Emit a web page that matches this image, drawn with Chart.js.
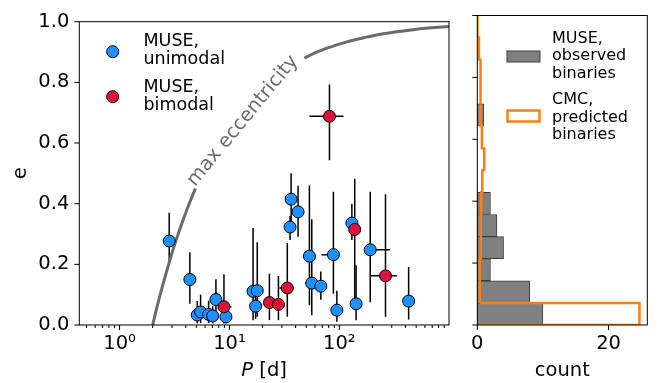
<!DOCTYPE html>
<html>
<head>
<meta charset="utf-8">
<script src="https://cdn.jsdelivr.net/npm/chart.js@4.4.0/dist/chart.umd.min.js"></script>
<style>
  html, body { margin: 0; padding: 0; background: #fff; }
  #wrap { position: relative; width: 660px; height: 383px; }
  #c1 { position: absolute; left: 0; top: 0; }
  #c2 { position: absolute; left: 460px; top: 0; }
</style>
</head>
<body>
<div id="wrap">
  <canvas id="c1" width="460" height="383"></canvas>
  <canvas id="c2" width="200" height="383"></canvas>
</div>
<script>
// MUSE unimodal: period [d], eccentricity and error ranges
const uniP   = [2.83, 4.36, 5.09, 5.46, 6.46, 7.03, 7.53, 9.29, 16.4, 17.9, 17.3, 36.4, 35.6, 42.1, 53.4, 56.1, 67.8, 88.3, 94.9, 130, 142, 191, 427];
const uniE   = [0.277, 0.150, 0.033, 0.043, 0.035, 0.030, 0.084, 0.027, 0.111, 0.113, 0.062, 0.415, 0.323, 0.373, 0.227, 0.138, 0.128, 0.232, 0.049, 0.336, 0.070, 0.248, 0.079];
const uniELo = [0.205, 0.070, 0.006, 0.006, 0.006, 0.005, 0.043, 0.005, 0.016, 0.027, 0.020, 0.330, 0.280, 0.291, 0.065, 0.032, 0.083, 0.103, 0.011, 0.280, 0.016, 0.075, 0.018];
const uniEHi = [0.370, 0.240, 0.079, 0.100, 0.080, 0.062, 0.151, 0.055, 0.320, 0.273, 0.100, 0.500, 0.360, 0.459, 0.460, 0.349, 0.176, 0.439, 0.113, 0.400, 0.197, 0.439, 0.191];
const uniPLo = [2.83, 4.36, 5.09, 5.46, 6.46, 7.03, 7.53, 9.29, 16.4, 17.9, 17.3, 36.4, 35.6, 42.1, 53.4, 48.6, 67.8, 68.6, 94.9, 130, 142, 175, 427];
const uniPHi = [2.83, 4.36, 5.09, 5.46, 6.46, 7.03, 7.53, 9.29, 16.4, 17.9, 17.3, 36.4, 35.6, 42.1, 61.0, 60.0, 67.8, 95.0, 94.9, 130, 142, 290, 427];

// MUSE bimodal
const biP   = [8.91, 23.1, 27.9, 33.6, 81.3, 138, 263];
const biE   = [0.060, 0.074, 0.068, 0.122, 0.688, 0.315, 0.162];
const biELo = [0.005, 0.016, 0.016, 0.027, 0.543, 0.075, 0.027];
const biEHi = [0.167, 0.169, 0.162, 0.270, 0.793, 0.482, 0.431];
const biPLo = [8.2, 23.1, 27.9, 28.4, 53.4, 138, 191];
const biPHi = [10.4, 23.1, 27.9, 38.2, 109, 138, 334];

// max eccentricity curve (gap where the label sits)
const limP1 = [2.0, 2.1, 2.2, 2.35, 2.5, 2.75, 3.0, 3.3, 3.6, 4.0, 4.4, 4.9];
const limE1 = [0.0, 0.032, 0.062, 0.102, 0.138, 0.191, 0.237, 0.284, 0.324, 0.370, 0.409, 0.450];
const limP2 = [48, 60, 75, 100, 130, 170, 230, 320, 450, 650, 995];
const limE2 = [0.880, 0.897, 0.911, 0.926, 0.938, 0.948, 0.958, 0.966, 0.973, 0.979, 0.984];

// x axis ticks
const xTickVals = [0.5, 0.6, 0.7, 0.8, 0.9, 1, 2, 3, 4, 5, 6, 7, 8, 9, 10, 20, 30, 40, 50, 60, 70, 80, 90, 100, 200, 300, 400, 500, 600, 700, 800, 900];
const xMajorVals = [1, 10, 100];
const xMajorLabels = ['10\u2070', '10\u00b9', '10\u00b2'];

// histogram
const binEdges = [0, 0.0714, 0.1429, 0.2143, 0.2857, 0.3571, 0.4286, 0.5, 0.5714, 0.6429, 0.7143, 0.7857, 0.8571, 0.9286, 1];
const museCounts = [10, 8, 2, 4, 3, 2, 0, 0, 0, 1, 0, 0, 0, 0];
const cmcCounts = [24.7, 0.35, 0.4, 0.5, 0.55, 0.6, 0.75, 1.05, 0.7, 0.55, 0.5, 0.45, 0.25, 0.05];

const FONT = '"DejaVu Sans", sans-serif';
const GRAY = '#6b6b6b';
Chart.defaults.font.family = FONT;
Chart.defaults.color = '#000';

function pts(xs, ys) { return xs.map((v, i) => ({x: v, y: ys[i]})); }

function drawTicks(ctx, scale, vals, lenFn, side) {
    const ca = scale.chart.chartArea;
    ctx.beginPath();
    vals.forEach(v => {
        const len = lenFn(v);
        const p = scale.getPixelForValue(v);
        if (side === 'bottom') {
            ctx.moveTo(p, ca.bottom); ctx.lineTo(p, ca.bottom + len);
        } else {
            ctx.moveTo(ca.left, p); ctx.lineTo(ca.left - len, p);
        }
    });
    ctx.stroke();
}

const mainDecor = {
    id: 'mainDecor',
    beforeDatasetsDraw(chart) {
        const {ctx, scales: {x, y}} = chart;
        ctx.save();
        ctx.strokeStyle = '#000';
        ctx.lineWidth = 1.5;
        const groups = [
            [uniP, uniE, uniELo, uniEHi, uniPLo, uniPHi],
            [biP, biE, biELo, biEHi, biPLo, biPHi]
        ];
        groups.forEach(([P, E, lo, hi, plo, phi]) => {
            for (let i = 0; i < P.length; i++) {
                const px = x.getPixelForValue(P[i]);
                const py = y.getPixelForValue(E[i]);
                ctx.beginPath();
                ctx.moveTo(px, y.getPixelForValue(lo[i]));
                ctx.lineTo(px, y.getPixelForValue(hi[i]));
                if (plo[i] !== phi[i]) {
                    ctx.moveTo(x.getPixelForValue(plo[i]), py);
                    ctx.lineTo(x.getPixelForValue(phi[i]), py);
                }
                ctx.stroke();
            }
        });
        ctx.restore();
    },
    afterDraw(chart) {
        const {ctx, chartArea: ca, scales: {x, y}} = chart;
        ctx.save();
        ctx.strokeStyle = '#000';
        ctx.lineWidth = 1;
        ctx.strokeRect(ca.left, ca.top, ca.right - ca.left, ca.bottom - ca.top);
        drawTicks(ctx, x, xTickVals, v => xMajorVals.includes(v) ? 5 : 3, 'bottom');
        drawTicks(ctx, y, y.ticks.map(t => t.value), () => 5, 'left');

        // axis labels
        ctx.fillStyle = '#000';
        ctx.textBaseline = 'alphabetic';
        ctx.font = 'italic 19.5px ' + FONT;
        const pw = ctx.measureText('P').width;
        ctx.font = '19.5px ' + FONT;
        const rw = ctx.measureText(' [d]').width;
        const cx = (ca.left + ca.right) / 2;
        const sx = cx - (pw + rw) / 2;
        ctx.textAlign = 'left';
        ctx.font = 'italic 19.5px ' + FONT;
        ctx.fillText('P', sx, 376);
        ctx.font = '19.5px ' + FONT;
        ctx.fillText(' [d]', sx + pw, 376);

        ctx.save();
        ctx.translate(26, (ca.top + ca.bottom) / 2);
        ctx.rotate(-Math.PI / 2);
        ctx.textAlign = 'center';
        ctx.fillText('e', 0, 0);
        ctx.restore();

        // legend
        const legend = [
            {color: '#1E90FF', cy: 51.7, lines: ['MUSE,', 'unimodal'], base: 46},
            {color: '#DC143C', cy: 96.7, lines: ['MUSE,', 'bimodal'], base: 91.7}
        ];
        ctx.font = '17.5px ' + FONT;
        legend.forEach(it => {
            ctx.beginPath();
            ctx.arc(112.7, it.cy, 6, 0, Math.PI * 2);
            ctx.fillStyle = it.color;
            ctx.fill();
            ctx.lineWidth = 1;
            ctx.stroke();
            ctx.fillStyle = '#000';
            it.lines.forEach((t, k) => ctx.fillText(t, 143.5, it.base + k * 18.3));
        });

        // curve label
        ctx.save();
        ctx.translate(x.getPixelForValue(4.85), y.getPixelForValue(0.455));
        ctx.rotate(-50.5 * Math.PI / 180);
        ctx.fillStyle = GRAY;
        ctx.font = '19.5px ' + FONT;
        ctx.textAlign = 'left';
        ctx.fillText('max eccentricity', 0, 0);
        ctx.restore();
        ctx.restore();
    }
};

new Chart(document.getElementById('c1'), {
    type: 'scatter',
    data: {
        datasets: [
            {label: 'MUSE, bimodal', data: pts(biP, biE), backgroundColor: '#DC143C', borderColor: '#000', borderWidth: 1, pointRadius: 6, pointHoverRadius: 6},
            {label: 'MUSE, unimodal', data: pts(uniP, uniE), backgroundColor: '#1E90FF', borderColor: '#000', borderWidth: 1, pointRadius: 6, pointHoverRadius: 6},
            {label: 'max1', data: pts(limP1, limE1), showLine: true, borderColor: GRAY, borderWidth: 3, pointRadius: 0, cubicInterpolationMode: 'monotone'},
            {label: 'max2', data: pts(limP2, limE2), showLine: true, borderColor: GRAY, borderWidth: 3, pointRadius: 0, cubicInterpolationMode: 'monotone'}
        ]
    },
    options: {
        responsive: false,
        animation: false,
        devicePixelRatio: 1,
        layout: {padding: {left: 0, top: 15.5, right: 11, bottom: 0}},
        plugins: {legend: {display: false}, tooltip: {enabled: false}},
        scales: {
            x: {
                type: 'logarithmic',
                min: 0.43,
                max: 995,
                afterBuildTicks: s => { s.ticks = xTickVals.map(v => ({value: v})); },
                afterFit: s => { s.height = 58; },
                grid: {display: false, drawTicks: false},
                border: {display: false},
                ticks: {
                    autoSkip: false, maxRotation: 0, padding: 7,
                    font: {size: 19.5},
                    callback: v => {
                        const k = xMajorVals.indexOf(v);
                        return k >= 0 ? xMajorLabels[k] : '';
                    }
                }
            },
            y: {
                min: 0,
                max: 1,
                afterFit: s => { s.width = 79.3; },
                grid: {display: false, drawTicks: false},
                border: {display: false},
                ticks: {stepSize: 0.2, padding: 10, font: {size: 19.5}, callback: v => v.toFixed(1)}
            }
        }
    },
    plugins: [mainDecor]
});

// step outline for the CMC histogram, built from the bin edges and counts
const stepPts = [{x: 0, y: binEdges[0]}];
cmcCounts.forEach((c, i) => {
    stepPts.push({x: c, y: binEdges[i]});
    stepPts.push({x: c, y: binEdges[i + 1]});
});
stepPts.push({x: 0, y: binEdges[binEdges.length - 1]});
const binCenters = museCounts.map((_, i) => (binEdges[i] + binEdges[i + 1]) / 2);

const histDecor = {
    id: 'histDecor',
    afterDraw(chart) {
        const {ctx, chartArea: ca, scales: {x, y}} = chart;
        ctx.save();
        ctx.strokeStyle = '#000';
        ctx.lineWidth = 1;
        ctx.strokeRect(ca.left, ca.top, ca.right - ca.left, ca.bottom - ca.top);
        drawTicks(ctx, x, x.ticks.map(t => t.value), () => 5, 'bottom');
        drawTicks(ctx, y, y.ticks.map(t => t.value), () => 5, 'left');

        ctx.fillStyle = '#000';
        ctx.font = '19.5px ' + FONT;
        ctx.textAlign = 'center';
        ctx.fillText('count', (ca.left + ca.right) / 2, 376);

        // legend
        ctx.textAlign = 'left';
        ctx.font = '16px ' + FONT;
        ctx.fillStyle = '#808080';
        ctx.fillRect(47, 51, 33, 11);
        ctx.strokeStyle = '#3c3c3c';
        ctx.strokeRect(47, 51, 33, 11);
        ctx.fillStyle = '#000';
        ['MUSE,', 'observed', 'binaries'].forEach((t, k) => ctx.fillText(t, 92, 42.5 + k * 17.5));
        ctx.strokeStyle = '#ff7f0e';
        ctx.lineWidth = 2.5;
        ctx.strokeRect(47.5, 110.5, 32, 11);
        ['CMC,', 'predicted', 'binaries'].forEach((t, k) => ctx.fillText(t, 92, 104 + k * 17.5));
        ctx.restore();
    }
};

new Chart(document.getElementById('c2'), {
    type: 'bar',
    data: {
        datasets: [
            {type: 'line', label: 'CMC, predicted binaries', data: stepPts, borderColor: '#ff7f0e', borderWidth: 2.5, pointRadius: 0, fill: false, order: 1, tension: 0},
            {label: 'MUSE, observed binaries', data: binCenters.map((c, i) => ({x: museCounts[i], y: c})), backgroundColor: '#808080', borderColor: '#3c3c3c', borderWidth: 1, borderSkipped: false, barPercentage: 1, categoryPercentage: 1, order: 2}
        ]
    },
    options: {
        indexAxis: 'y',
        responsive: false,
        animation: false,
        devicePixelRatio: 1,
        layout: {padding: {left: 0, top: 15.5, right: 12.7, bottom: 0}},
        plugins: {legend: {display: false}, tooltip: {enabled: false}},
        scales: {
            x: {
                type: 'linear', min: 0, max: 25.9,
                afterFit: s => { s.height = 58; },
                grid: {display: false, drawTicks: false},
                border: {display: false},
                ticks: {stepSize: 20, includeBounds: false, padding: 7, font: {size: 19.5}}
            },
            y: {
                type: 'linear', min: 0, max: 1, offset: false,
                afterFit: s => { s.width = 17.3; },
                grid: {display: false, drawTicks: false},
                border: {display: false},
                ticks: {stepSize: 0.2, display: false}
            }
        }
    },
    plugins: [histDecor]
});
</script>
</body>
</html>
